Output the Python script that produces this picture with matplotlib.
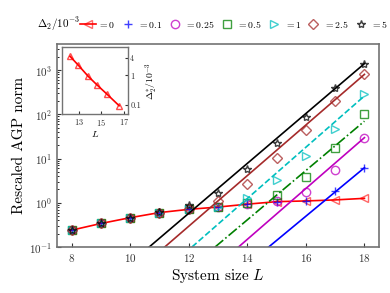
import numpy as np
import matplotlib
matplotlib.use("Agg")
import matplotlib.pyplot as plt

plt.rcParams['font.family'] = 'serif'
plt.rcParams['font.serif'] = ['cmr10']
plt.rcParams['mathtext.fontset'] = 'cm'
plt.rcParams['axes.formatter.use_mathtext'] = True
plt.rcParams['axes.unicode_minus'] = False

# system sizes
L = [8, 9, 10, 11, 12, 13, 14, 15, 16, 17, 18]

# rescaled AGP norm for each Delta_2 / 10^-3
norm_0 = [0.24, 0.34, 0.46, 0.60, 0.71, 0.80, 0.93, 1.06, 1.10, 1.16, 1.26]
norm_01 = [0.24, 0.34, 0.46, 0.60, 0.71, 0.80, 0.93, 1.06, 1.12, 1.85, 6.2]
norm_025 = [0.24, 0.34, 0.46, 0.60, 0.71, 0.80, 0.94, 1.08, 1.78, 5.5, 29.7]
norm_05 = [0.24, 0.34, 0.46, 0.60, 0.71, 0.81, 1.0, 1.5, 3.9, 17.6, 102]
norm_1 = [0.24, 0.34, 0.46, 0.60, 0.71, 0.82, 1.3, 3.3, 11.4, 47, 290]
norm_25 = [0.24, 0.34, 0.46, 0.60, 0.73, 1.12, 2.7, 10.5, 44, 200, 808]
norm_5 = [0.24, 0.34, 0.46, 0.61, 0.89, 1.67, 5.9, 22, 86, 390, 1380]

# exponential fits: (L where fit = 0.1, L end, value at L end)
fit_01 = ([14.73, 18], [0.1, 6.2])
fit_025 = ([13.70, 18], [0.1, 29.7])
fit_05 = ([12.90, 18], [0.1, 70])
fit_1 = ([12.11, 18], [0.1, 260])
fit_25 = ([11.18, 18], [0.1, 800])
fit_5 = ([10.65, 18], [0.1, 1400])

# inset: crossing size vs Delta*_2
L_star = [12.22, 12.96, 13.84, 14.62, 15.48, 16.6]
delta_star = [4.4, 2.2, 0.93, 0.48, 0.24, 0.095]

fig = plt.figure(figsize=(3.9, 2.93), dpi=100)
ax = fig.add_axes([0.146, 0.157, 0.826, 0.693])

spine_col = '0.45'

def rgba(c, a):
    return matplotlib.colors.to_rgba(c, a)

ax.plot(L, norm_0, '-', color='red', lw=1.2, marker='<', ms=6,
        mfc='none', mec=rgba('red', 0.6), mew=1.0, label=r'$=0$')

series = [
    (norm_01, fit_01, 'blue', '+', '-', r'$=0.1$'),
    (norm_025, fit_025, 'm', 'o', '-', r'$=0.25$'),
    (norm_05, fit_05, 'green', 's', '-.', r'$=0.5$'),
    (norm_1, fit_1, 'c', '>', '--', r'$=1$'),
    (norm_25, fit_25, 'brown', 'D', '-', r'$=2.5$'),
    (norm_5, fit_5, 'black', '*', '-', r'$=5$'),
]
for vals, fit, col, mk, ls, lab in series:
    ax.plot(fit[0], fit[1], ls=ls, color=col, lw=1.2)
    ms = 5 if mk == 'D' else 6
    ax.plot(L, vals, ls='none', marker=mk, ms=ms, mfc='none',
            mec=rgba(col, 0.75), mew=1.0, label=lab)

ax.set_yscale('log')
ax.set_xlim(7.5, 18.5)
ax.set_ylim(0.1, 3900)
ax.set_xticks([8, 10, 12, 14, 16, 18])
ax.tick_params(direction='in', labelsize=8, colors='0.2', length=3)
ax.tick_params(which='minor', direction='in', length=1.5)
ax.tick_params(axis='x', which='minor', bottom=False)
for s in ax.spines.values():
    s.set_color(spine_col)
    s.set_linewidth(1.2)
ax.set_xlabel('System size $L$', fontsize=11, labelpad=2)
ax.set_ylabel('Rescaled AGP norm', fontsize=11, labelpad=2)

fig.text(0.095, 0.918, r'$\Delta_2/10^{-3}$', fontsize=8, va='center', ha='left')
ax.legend(loc='center left', bbox_to_anchor=(0.205, 0.918),
          bbox_transform=fig.transFigure, ncol=7, frameon=False,
          fontsize=7, handlelength=1.6, handletextpad=0.3,
          columnspacing=0.4, borderpad=0, borderaxespad=0)

# inset
ins = fig.add_axes([0.160, 0.611, 0.167, 0.227])
ins.plot(L_star, delta_star, '-', color='red', lw=1.2, marker='^', ms=5,
         mfc='none', mec=rgba('red', 0.7), mew=1.0)
ins.set_yscale('log')
ins.set_xlim(11.53, 17.35)
ins.set_ylim(0.05, 8.8)
ins.set_xticks([13, 15, 17])
ins.set_yticks([0.1, 1, 4])
ins.set_yticklabels(['0.1', '1', '4'])
ins.yaxis.tick_right()
ins.yaxis.set_label_position('right')
ins.tick_params(direction='in', labelsize=6, length=2, pad=2, colors='0.2')
ins.tick_params(which='minor', right=False, left=False)
for s in ins.spines.values():
    s.set_color(spine_col)
    s.set_linewidth(1.0)
ins.set_xlabel('$L$', fontsize=7, labelpad=1)
ins.set_ylabel(r'$\Delta_2^{*}/10^{-3}$', fontsize=7, labelpad=2)

fig.savefig('out.png', dpi=100)
